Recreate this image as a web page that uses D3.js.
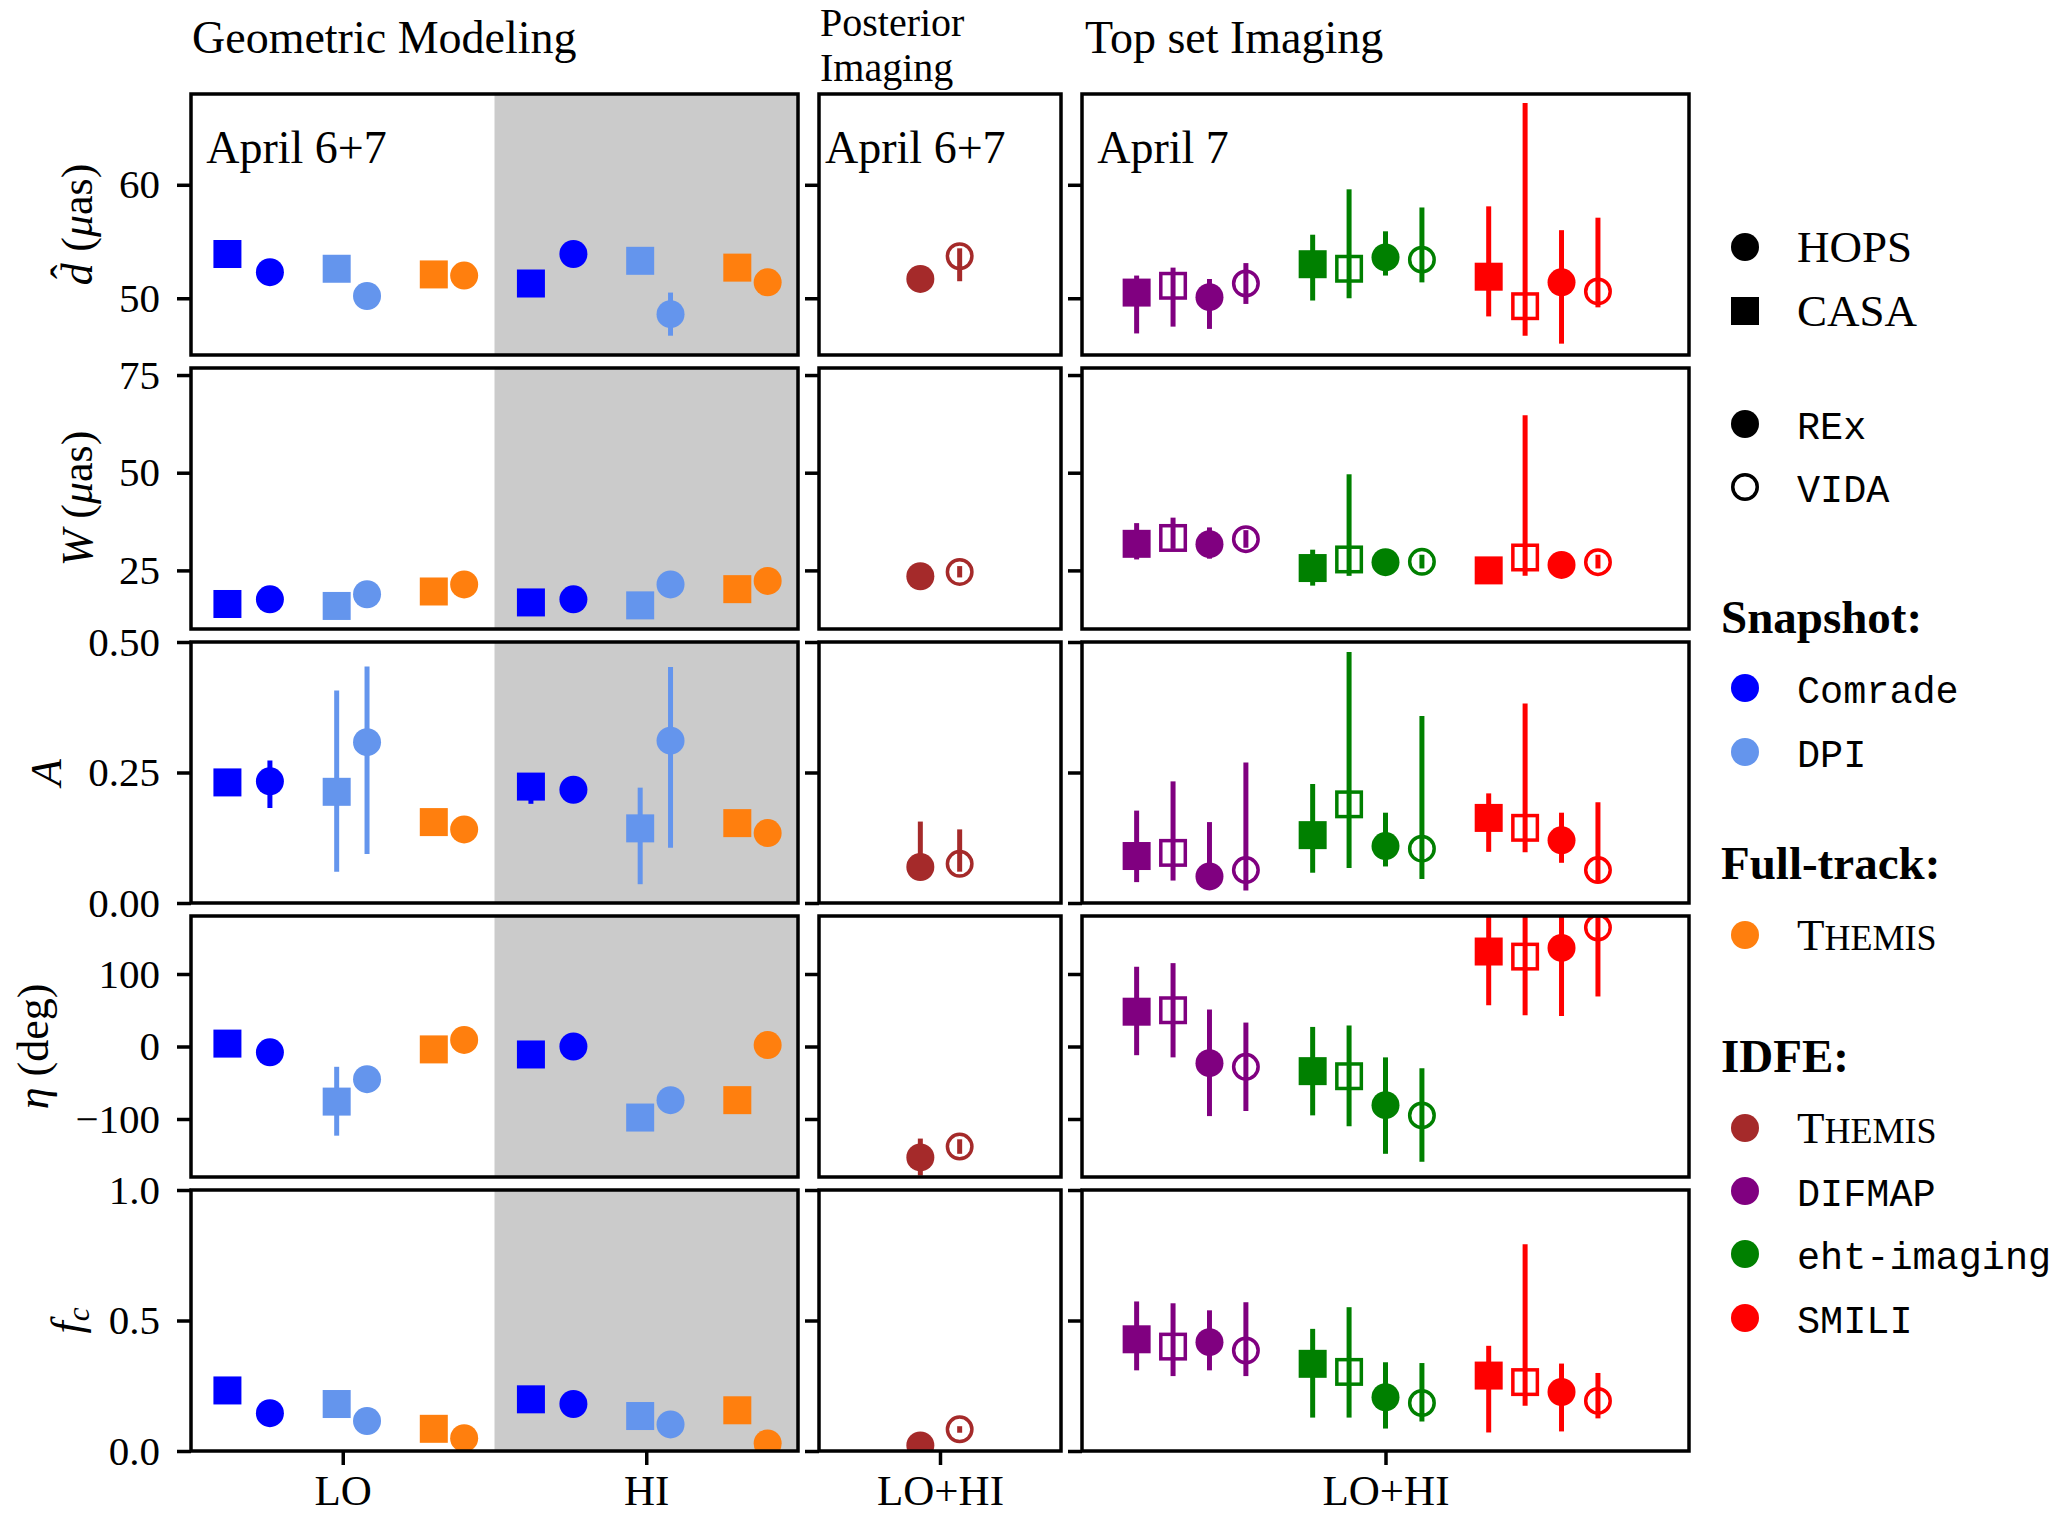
<!DOCTYPE html>
<html>
<head>
<meta charset="utf-8">
<script src="https://cdn.jsdelivr.net/npm/d3@7"></script>
<style>
  body { margin: 0; background: #fff; }
  svg { font-family: 'Liberation Serif', 'DejaVu Serif', serif; }
</style>
</head>
<body>
<div id="chart"></div>
<script>
// categories
const bands = ['LO', 'HI'];
const geoMethods = ['Comrade', 'DPI', 'THEMIS'];     // each as [CASA, HOPS]
const idfeMethods = ['DIFMAP', 'eht-imaging', 'SMILI']; // each as [CASA REx, CASA VIDA, HOPS REx, HOPS VIDA]
const postVariants = ['REx', 'VIDA'];
const rowKeys = ['d', 'W', 'A', 'eta', 'fc'];
const yTicks = [[50, 60], [25, 50, 75], [0, 0.25, 0.5], [-100, 0, 100], [0, 0.5, 1]];

// values: [value, low, high]
// geometric modeling, order: Comrade CASA, Comrade HOPS, DPI CASA, DPI HOPS, THEMIS CASA, THEMIS HOPS
const geoLO_d = [[53.9], [52.3], [52.6, 52.3, 52.9], [50.2, 49.8, 50.6], [52.1], [52.0]];
const geoHI_d = [[51.3], [53.9], [53.3], [48.6, 46.7, 50.5], [52.7], [51.4]];
const geoLO_W = [[16.4], [17.6], [15.9], [18.9], [19.6], [21.4]];
const geoHI_W = [[16.8], [17.6], [16.05], [21.4], [20.2], [22.3]];
const geoLO_A = [[0.231], [0.233, 0.182, 0.273], [0.213, 0.060, 0.407], [0.308, 0.094, 0.453], [0.155], [0.141]];
const geoHI_A = [[0.223, 0.19, 0.235], [0.217, 0.205, 0.22], [0.143, 0.036, 0.221], [0.311, 0.106, 0.452], [0.153], [0.134]];
const geoLO_eta = [[4], [-8], [-76, -123, -28], [-45], [-4], [9]];
const geoHI_eta = [[-11], [0], [-98], [-74], [-74], [2]];
const geoLO_fc = [[0.232], [0.145], [0.180], [0.115], [0.085], [0.049]];
const geoHI_fc = [[0.198], [0.180], [0.134], [0.102], [0.156], [0.029]];

// posterior imaging (THEMIS), REx then VIDA
const post_d = [[51.7], [53.7, 51.5, 54.4]];
const post_W = [[23.5], [24.6, 23.2, 26.1]];
const post_A = [[0.069, 0.06, 0.156], [0.075, 0.06, 0.141]];
const post_eta = [[-153, -178, -127], [-138, -148, -128]];
const post_fc = [[0.021], [0.083, 0.07, 0.095]];

// top set imaging
const top_d = [
  [50.5, 46.9, 52.0], [51.1, 47.5, 52.7], [50.1, 47.3, 51.7], [51.3, 49.5, 53.1],
  [53.0, 49.8, 55.6], [52.6, 50.0, 59.6], [53.6, 52.0, 55.9], [53.4, 51.4, 58.0],
  [51.9, 48.4, 58.1], [49.3, 46.7, 67.2], [51.4, 46.0, 56.0], [50.6, 49.2, 57.1]];
const top_W = [
  [31.8, 27.8, 37.1], [33.3, 30.5, 38.5], [31.7, 28.0, 36.0], [33.0, 30.8, 35.3],
  [25.6, 21.1, 30.3], [27.8, 23.6, 49.6], [27.1], [27.2, 25.5, 29.0],
  [25.0, 21.6, 27.0], [28.3, 23.6, 64.7], [26.4, 23.7, 27.5], [27.1, 25.5, 29.0]];
const top_A = [
  [0.090, 0.040, 0.177], [0.096, 0.043, 0.233], [0.051, 0.03, 0.155], [0.063, 0.024, 0.269],
  [0.130, 0.058, 0.228], [0.189, 0.067, 0.481], [0.109, 0.070, 0.173], [0.104, 0.046, 0.358],
  [0.163, 0.098, 0.210], [0.144, 0.097, 0.382], [0.120, 0.077, 0.173], [0.063, 0.04, 0.193]];
const top_eta = [
  [48, -12, 110], [50, -15, 115], [-23, -96, 51], [-28, -89, 33],
  [-34, -95, 27], [-41, -110, 29], [-81, -148, -15], [-95, -159, -30],
  [131, 57, 240], [124, 43, 240], [136, 42, 240], [164, 69, 240]];
const top_fc = [
  [0.428, 0.309, 0.573], [0.400, 0.287, 0.566], [0.417, 0.309, 0.539], [0.385, 0.287, 0.570],
  [0.334, 0.128, 0.468], [0.303, 0.128, 0.551], [0.206, 0.086, 0.340], [0.184, 0.113, 0.337],
  [0.289, 0.071, 0.403], [0.264, 0.173, 0.792], [0.226, 0.075, 0.335], [0.192, 0.125, 0.299]];

const geoLO = [geoLO_d, geoLO_W, geoLO_A, geoLO_eta, geoLO_fc];
const geoHI = [geoHI_d, geoHI_W, geoHI_A, geoHI_eta, geoHI_fc];
const postData = [post_d, post_W, post_A, post_eta, post_fc];
const topData = [top_d, top_W, top_A, top_eta, top_fc];

// styles / layout
const geoColors = ['#0000ff', '#6495ed', '#ff7f0e'];
const idfeColors = ['#800080', '#008000', '#ff0000'];
const postColor = '#a52a2a';
const yDomains = [[45, 68], [10, 76.8], [0, 0.5], [-180, 180], [0, 1]];
const yFormats = ['d', 'd', '.2f', 'd', '.1f'];
const geoOffsets = [-0.38, -0.24, -0.02, 0.08, 0.30, 0.40];
const postOffsets = [-0.065, 0.065];
const topOffsets = [-0.82, -0.70, -0.58, -0.46, -0.24, -0.12, 0, 0.12, 0.34, 0.46, 0.58, 0.70];

const width = 2052;
const height = 1515;
const rowTop = 94, rowH = 261, rowStep = 274;
const cols = [
  { x0: 191, x1: 798, domain: [-0.5, 1.5] },
  { x0: 819, x1: 1061, domain: [-0.4, 0.4] },
  { x0: 1082, x1: 1689, domain: [-1, 1] }
];
const M = 28, SW = 3.5, EW = 5, TICK = 14;
const MONO = "'Liberation Mono', 'DejaVu Sans Mono', monospace";

const svg = d3.select('#chart')
  .append('svg')
  .attr('width', width)
  .attr('height', height);

const xs = cols.map(c => d3.scaleLinear().domain(c.domain).range([c.x0, c.x1]));

function marker(sel) {
  sel.each(function (q) {
    const g = d3.select(this);
    const s = q.filled ? M : M - SW;
    if (q.square) {
      g.append('rect').attr('x', q.x - s / 2).attr('y', q.y - s / 2).attr('width', s).attr('height', s);
    } else {
      g.append('circle').attr('cx', q.x).attr('cy', q.y).attr('r', s / 2);
    }
    g.selectAll('*')
      .attr('fill', q.filled ? q.color : 'none')
      .attr('stroke', q.filled ? 'none' : q.color)
      .attr('stroke-width', SW);
  });
}

rowKeys.forEach((key, r) => {
  const top = rowTop + r * rowStep;
  const y = d3.scaleLinear().domain(yDomains[r]).range([top + rowH, top]);

  const pts = [];
  [geoLO[r], geoHI[r]].forEach((arr, b) => arr.forEach((d, i) => pts.push({
    panel: 0, x: xs[0](b + geoOffsets[i]), d, color: geoColors[Math.floor(i / 2)], square: i % 2 === 0, filled: true
  })));
  postData[r].forEach((d, i) => pts.push({
    panel: 1, x: xs[1](postOffsets[i]), d, color: postColor, square: false, filled: i === 0
  }));
  topData[r].forEach((d, i) => pts.push({
    panel: 2, x: xs[2](topOffsets[i]), d, color: idfeColors[Math.floor(i / 4)], square: i % 4 < 2, filled: i % 2 === 0
  }));
  pts.forEach(q => { q.y = y(q.d[0]); });

  cols.forEach((c, ci) => {
    const g = svg.append('g');
    const id = `clip-${r}-${ci}`;
    g.append('clipPath').attr('id', id)
      .append('rect').attr('x', c.x0).attr('y', top).attr('width', c.x1 - c.x0).attr('height', rowH);

    if (ci === 0) {
      g.append('rect')
        .attr('x', xs[0](0.5)).attr('y', top)
        .attr('width', xs[0](1.5) - xs[0](0.5)).attr('height', rowH)
        .attr('fill', '#cbcbcb');
    }

    const inner = g.append('g').attr('clip-path', `url(#${id})`);
    const mine = pts.filter(q => q.panel === ci);

    inner.selectAll('line')
      .data(mine.filter(q => q.d.length > 1))
      .join('line')
      .attr('x1', q => q.x).attr('x2', q => q.x)
      .attr('y1', q => y(q.d[1])).attr('y2', q => y(q.d[2]))
      .attr('stroke', q => q.color)
      .attr('stroke-width', EW);

    inner.selectAll('g.mk')
      .data(mine)
      .join('g')
      .attr('class', 'mk')
      .call(marker);

    // left axis
    const ax = g.append('g')
      .attr('transform', `translate(${c.x0},0)`)
      .call(d3.axisLeft(y).tickValues(yTicks[r]).tickSize(TICK).tickPadding(17)
        .tickFormat(ci === 0 ? d3.format(yFormats[r]) : ''));
    ax.select('.domain').remove();
    ax.attr('font-size', 41).attr('font-family', null);
    ax.selectAll('line').attr('stroke', '#000').attr('stroke-width', SW);
    ax.selectAll('text').attr('fill', '#000');

    if (r === rowKeys.length - 1) {
      const tv = ci === 0 ? [0, 1] : [0];
      const bx = g.append('g')
        .attr('transform', `translate(0,${top + rowH})`)
        .call(d3.axisBottom(xs[ci]).tickValues(tv).tickSize(TICK).tickPadding(9)
          .tickFormat(v => ci === 0 ? bands[v] : 'LO+HI'));
      bx.select('.domain').remove();
      bx.attr('font-size', 43).attr('font-family', null);
      bx.selectAll('line').attr('stroke', '#000').attr('stroke-width', SW);
      bx.selectAll('text').attr('fill', '#000');
    }

    g.append('rect')
      .attr('x', c.x0).attr('y', top)
      .attr('width', c.x1 - c.x0).attr('height', rowH)
      .attr('fill', 'none').attr('stroke', '#000').attr('stroke-width', SW);

    if (ci === 0) {
      const bb = ax.node().getBBox();
      const lx = c.x0 + bb.x - 27;
      const t = svg.append('text')
        .attr('transform', `translate(${lx},${top + rowH / 2}) rotate(-90)`)
        .attr('text-anchor', 'middle')
        .attr('font-size', 44);
      if (key === 'd') {
        t.append('tspan').attr('font-style', 'italic').text('d');
        t.append('tspan').attr('dx', -16).attr('dy', -11).text('ˆ');
        t.append('tspan').attr('dx', 2).attr('dy', 11).text('\u00a0(');
        t.append('tspan').attr('font-style', 'italic').text('μ');
        t.append('tspan').text('as)');
      } else if (key === 'W') {
        t.append('tspan').attr('font-style', 'italic').text('W');
        t.append('tspan').text('\u00a0(');
        t.append('tspan').attr('font-style', 'italic').text('μ');
        t.append('tspan').text('as)');
      } else if (key === 'A') {
        t.append('tspan').attr('font-style', 'italic').text('A');
      } else if (key === 'eta') {
        t.append('tspan').attr('font-style', 'italic').text('η');
        t.append('tspan').text('\u00a0(deg)');
      } else {
        t.append('tspan').attr('font-style', 'italic').text('f');
        t.append('tspan').attr('font-style', 'italic').attr('font-size', 31).attr('dy', 7).text('c');
      }
    }
  });
});

// panel texts
const titles = [
  { x: 192, y: 53, size: 46, text: 'Geometric Modeling' },
  { x: 820, y: 36, size: 40, text: 'Posterior' },
  { x: 820, y: 81, size: 40, text: 'Imaging' },
  { x: 1085, y: 53, size: 46, text: 'Top set Imaging' }
];
titles.forEach(t => {
  svg.append('text').attr('x', t.x).attr('y', t.y).attr('font-size', t.size).text(t.text);
});
const dates = ['April 6+7', 'April 6+7', 'April 7'];
cols.forEach((c, i) => {
  svg.append('text')
    .attr('x', c.x0 + 0.025 * (c.x1 - c.x0))
    .attr('y', 163)
    .attr('font-size', 46)
    .text(dates[i]);
});

// legend
const legendItems = [
  { y: 247, label: 'HOPS', font: 'serif', shape: 'circle', filled: true, color: '#000' },
  { y: 311, label: 'CASA', font: 'serif', shape: 'square', filled: true, color: '#000' },
  { y: 424, label: 'REx', font: 'mono', shape: 'circle', filled: true, color: '#000' },
  { y: 487, label: 'VIDA', font: 'mono', shape: 'circle', filled: false, color: '#000' },
  { y: 618, label: 'Snapshot:', font: 'bold' },
  { y: 688, label: geoMethods[0], font: 'mono', shape: 'circle', filled: true, color: geoColors[0] },
  { y: 752, label: geoMethods[1], font: 'mono', shape: 'circle', filled: true, color: geoColors[1] },
  { y: 864, label: 'Full-track:', font: 'bold' },
  { y: 935, label: 'THEMIS', font: 'caps', shape: 'circle', filled: true, color: geoColors[2] },
  { y: 1057, label: 'IDFE:', font: 'bold' },
  { y: 1128, label: 'THEMIS', font: 'caps', shape: 'circle', filled: true, color: postColor },
  { y: 1191, label: idfeMethods[0], font: 'mono', shape: 'circle', filled: true, color: idfeColors[0] },
  { y: 1254, label: idfeMethods[1], font: 'mono', shape: 'circle', filled: true, color: idfeColors[1] },
  { y: 1318, label: idfeMethods[2], font: 'mono', shape: 'circle', filled: true, color: idfeColors[2] }
];
const legend = svg.append('g');
legendItems.forEach(it => {
  if (it.font === 'bold') {
    legend.append('text').attr('x', 1721).attr('y', it.y + 15)
      .attr('font-size', 47).attr('font-weight', 'bold').text(it.label);
    return;
  }
  legend.append('g')
    .datum({ x: 1745, y: it.y, color: it.color, square: it.shape === 'square', filled: it.filled })
    .call(marker);
  const t = legend.append('text').attr('x', 1797).attr('y', it.y + 15);
  if (it.font === 'mono') {
    t.attr('font-family', MONO).attr('font-size', 38.5).text(it.label);
  } else if (it.font === 'caps') {
    t.attr('font-size', 45);
    t.append('tspan').text(it.label[0]);
    t.append('tspan').attr('font-size', 36).text(it.label.slice(1));
  } else {
    t.attr('font-size', 45).text(it.label);
  }
});
</script>
</body>
</html>
